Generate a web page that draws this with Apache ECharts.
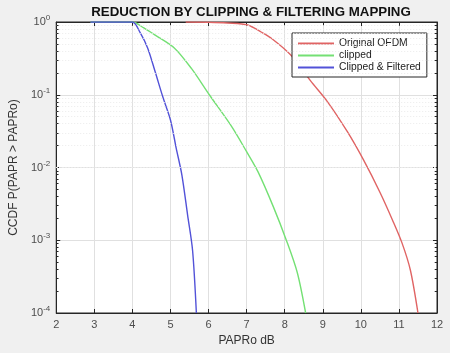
<!DOCTYPE html>
<html>
<head>
<meta charset="utf-8">
<script src="https://cdn.jsdelivr.net/npm/echarts@6/dist/echarts.min.js"></script>
<style>html,body{margin:0;padding:0;background:#f0f0f0;}#c{width:450px;height:353px;}</style>
</head>
<body>
<div id="c"></div>
<script>
const titleText = 'REDUCTION BY CLIPPING & FILTERING MAPPING';
const xName = 'PAPRo dB';
const yName = 'CCDF P(PAPR > PAPRo)';
const seriesNames = ['Original OFDM', 'clipped', 'Clipped & Filtered'];

const origX = [5.4, 6.0, 6.5, 7.03, 7.38, 7.64, 8.16, 8.68, 9.13, 9.65, 10.07, 10.51, 10.83, 11.08, 11.3, 11.5];
const origY = [1, 0.994, 0.969, 0.91, 0.729, 0.603, 0.352, 0.155, 0.0794, 0.0308, 0.0127, 0.00447, 0.0019, 0.00092, 0.00039, 0.0001];

const clipX = [2.9, 3.5, 4.0, 4.3, 4.6, 5.1, 5.55, 6.02, 6.6, 7.0, 7.3, 7.7, 8.05, 8.33, 8.55];
const clipY = [1, 1, 1, 0.83, 0.66, 0.44, 0.23, 0.1, 0.037, 0.0165, 0.0087, 0.0029, 0.00098, 0.00036, 0.0001];

const filtX = [2.9, 3.5, 4.0, 4.2, 4.4, 4.6, 4.8, 5.0, 5.15, 5.3, 5.45, 5.58, 5.68];
const filtY = [1, 1, 1, 0.72, 0.44, 0.205, 0.093, 0.045, 0.0185, 0.00788, 0.00222, 0.00073, 0.0001];

const xMin = 2, xMax = 12, xStep = 1;
const yMin = 1e-4, yMax = 1;
const minorMult = [2, 3, 4, 5, 6, 7, 8, 9];
const decades = [1e-4, 1e-3, 1e-2, 1e-1];

const colors = ['#e06464', '#74e074', '#5252d8'];

function pairs(xs, ys) { return xs.map((x, i) => [x, ys[i]]); }

const minorVals = [];
decades.forEach(d => minorMult.forEach(m => minorVals.push(m * d)));

const gridMinorLines = minorVals.map(v => ({ yAxis: v }));
const tickLen = 0.06;
const minorTickSegs = [];
minorVals.forEach(v => {
  minorTickSegs.push([{ coord: [xMin, v] }, { coord: [xMin + tickLen, v] }]);
  minorTickSegs.push([{ coord: [xMax - tickLen, v] }, { coord: [xMax, v] }]);
});

const chart = echarts.init(document.getElementById('c'), null, { renderer: 'canvas' });

const axisColor = '#262626';
const labelColor = '#4d4d4d';

function lineSeries(i, xs, ys) {
  return {
    name: seriesNames[i], type: 'line', data: pairs(xs, ys),
    smooth: 0.3,
    showSymbol: false, lineStyle: { color: colors[i], width: 1.4 }, itemStyle: { color: colors[i] }
  };
}

const option = {
  backgroundColor: '#f0f0f0',
  animation: false,
  title: {
    text: titleText,
    left: 246, top: 1, textAlign: 'center',
    textStyle: { fontFamily: 'Liberation Sans, Arial', fontSize: 13.3, fontWeight: 'bold', color: '#111' }
  },
  legend: {
    data: seriesNames,
    orient: 'vertical',
    left: 292, top: 33,
    padding: [5, 6, 4, 6],
    itemWidth: 36, itemHeight: 2, itemGap: 1,
    icon: 'rect',
    backgroundColor: '#fff',
    borderColor: '#262626', borderWidth: 1, borderRadius: 0,
    textStyle: { fontFamily: 'Liberation Sans, Arial', fontSize: 10.3, color: '#222', lineHeight: 11 }
  },
  grid: {
    left: 54, right: 13, top: 22, bottom: 40,
    show: true, backgroundColor: '#ffffff', borderColor: axisColor, borderWidth: 1
  },
  xAxis: [{
    type: 'value', min: xMin, max: xMax, interval: xStep, position: 'bottom',
    name: xName, nameLocation: 'middle', nameGap: 20,
    nameTextStyle: { fontFamily: 'Liberation Sans, Arial', fontSize: 12, color: '#333' },
    axisLine: { show: true, lineStyle: { color: axisColor } },
    axisTick: { show: true, inside: true, length: 4, lineStyle: { color: axisColor } },
    axisLabel: { fontFamily: 'Liberation Sans, Arial', fontSize: 11, color: labelColor, margin: 6 },
    splitLine: { show: true, lineStyle: { color: '#e0e0e0', width: 1 } }
  }, {
    type: 'value', min: xMin, max: xMax, interval: xStep, position: 'top',
    axisLine: { show: true, lineStyle: { color: axisColor } },
    axisTick: { show: true, inside: true, length: 4, lineStyle: { color: axisColor } },
    axisLabel: { show: false }, splitLine: { show: false }
  }],
  yAxis: [{
    type: 'log', logBase: 10, min: yMin, max: yMax, position: 'left',
    name: yName, nameLocation: 'middle', nameGap: 34,
    nameTextStyle: { fontFamily: 'Liberation Sans, Arial', fontSize: 12, color: '#333' },
    axisLine: { show: true, lineStyle: { color: axisColor } },
    axisTick: { show: true, inside: true, length: 4, lineStyle: { color: axisColor } },
    axisLabel: {
      color: labelColor, margin: 6,
      formatter: v => '{b|10}{s|' + Math.round(Math.log10(v)) + '}',
      rich: {
        b: { fontFamily: 'Liberation Sans, Arial', fontSize: 11, color: labelColor },
        s: { fontFamily: 'Liberation Sans, Arial', fontSize: 8, color: labelColor, verticalAlign: 'top', padding: [0, 0, 8, 0] }
      }
    },
    splitLine: { show: true, lineStyle: { color: '#e0e0e0', width: 1 } }
  }, {
    type: 'log', logBase: 10, min: yMin, max: yMax, position: 'right',
    axisLine: { show: true, lineStyle: { color: axisColor } },
    axisTick: { show: true, inside: true, length: 4, lineStyle: { color: axisColor } },
    axisLabel: { show: false }, splitLine: { show: false }
  }],
  series: [
    {
      name: '_minor', type: 'line', data: [], silent: true,
      markLine: {
        silent: true, symbol: 'none', label: { show: false }, animation: false,
        lineStyle: { color: '#ebebeb', type: [1, 2], width: 1 },
        data: gridMinorLines
      }
    },
    {
      name: '_minorTicks', type: 'line', data: [], silent: true,
      markLine: {
        silent: true, symbol: 'none', label: { show: false }, animation: false,
        lineStyle: { color: axisColor, type: 'solid', width: 1 },
        data: minorTickSegs
      }
    },
    lineSeries(0, origX, origY),
    lineSeries(1, clipX, clipY),
    lineSeries(2, filtX, filtY)
  ]
};
chart.setOption(option);
</script>
</body>
</html>
